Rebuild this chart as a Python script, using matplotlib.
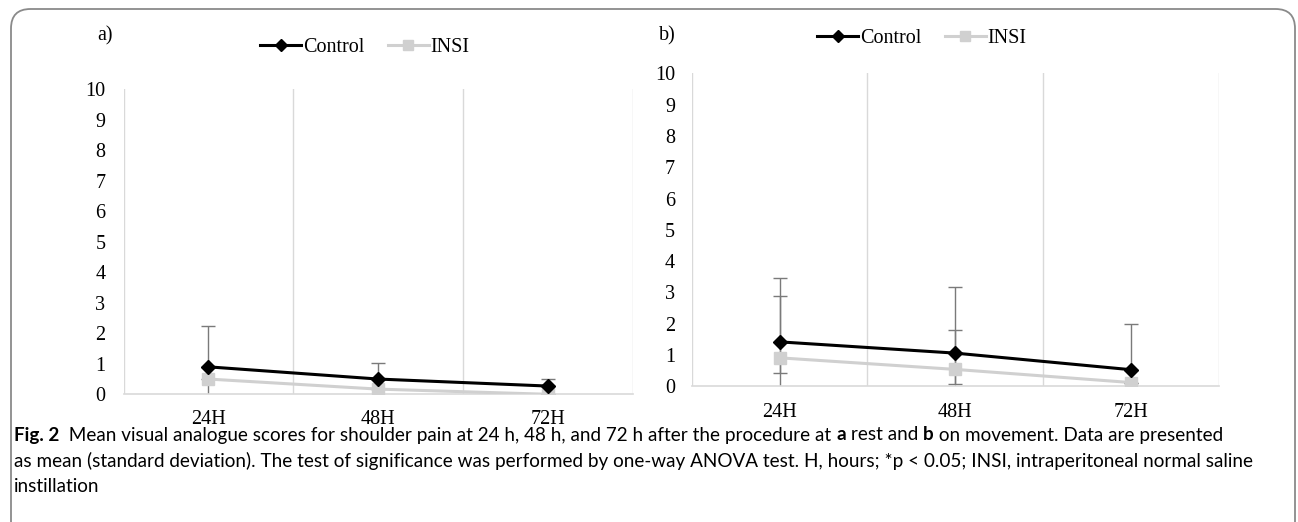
import matplotlib
matplotlib.use("Agg")
import matplotlib.pyplot as plt
from matplotlib import font_manager
from matplotlib.patches import FancyBboxPatch
from matplotlib.lines import Line2D

# data
times = ["24H", "48H", "72H"]

a_control = [0.90, 0.50, 0.27]
a_control_up = [1.33, 0.52, 0.22]
a_control_lo = [0.0, 0.0, 0.0]
a_insi = [0.50, 0.17, 0.0]
a_insi_up = [0.0, 0.0, 0.0]
a_insi_lo = [0.60, 0.30, 0.0]

b_control = [1.42, 1.06, 0.53]
b_control_up = [2.04, 2.11, 1.46]
b_control_lo = [1.01, 1.00, 0.0]
b_insi = [0.91, 0.54, 0.12]
b_insi_up = [1.97, 1.26, 0.0]
b_insi_lo = [1.97, 1.26, 0.0]

yticks = list(range(0, 11))

SERIF = "Liberation Serif"
TICK_SIZE = 14.5
CTRL_COLOR = "black"
INSI_COLOR = "#d0d0d0"
ERR_COLOR = "#7a7a7a"
GRID_COLOR = "#d9d9d9"

W, H = 1298, 522
fig = plt.figure(figsize=(W / 100, H / 100), dpi=100)


def px_rect(left, top, right, bottom):
    return [left / W, (H - bottom) / H, (right - left) / W, (bottom - top) / H]


def panel(rect, ctrl, ctrl_up, ctrl_lo, insi, insi_up, insi_lo, ypad, xpad):
    ax = fig.add_axes(rect)
    x = list(range(len(times)))
    ax.errorbar(x, ctrl, yerr=[ctrl_lo, ctrl_up], fmt="none", ecolor=ERR_COLOR,
                elinewidth=1, capsize=5, capthick=1, zorder=2)
    ax.errorbar(x, insi, yerr=[insi_lo, insi_up], fmt="none", ecolor=ERR_COLOR,
                elinewidth=1, capsize=5, capthick=1, zorder=2)
    ax.plot(x, insi, color=INSI_COLOR, lw=2.2, marker="s", ms=8, zorder=3)
    ax.plot(x, ctrl, color=CTRL_COLOR, lw=2.2, marker="D", ms=7, zorder=4)
    ax.set_xlim(-0.5, len(times) - 0.5)
    ax.set_ylim(0, 10)
    ax.set_yticks(yticks)
    ax.set_yticklabels([str(v) for v in yticks], fontfamily=SERIF, fontsize=TICK_SIZE)
    ax.set_xticks(x)
    ax.set_xticklabels(times, fontfamily=SERIF, fontsize=TICK_SIZE)
    ax.set_xticks([i - 0.5 for i in range(len(times) + 1)], minor=True)
    ax.grid(True, which="minor", axis="x", color=GRID_COLOR, lw=1)
    ax.tick_params(axis="both", which="both", length=0)
    ax.tick_params(axis="y", pad=ypad)
    ax.tick_params(axis="x", pad=xpad)
    for s in ["top", "right", "left"]:
        ax.spines[s].set_visible(False)
    ax.spines["bottom"].set_color(GRID_COLOR)
    ax.spines["bottom"].set_linewidth(1.2)
    ax.set_facecolor("none")
    return ax


ax_a = panel(px_rect(123.5, 89.3, 633, 394.3), a_control, a_control_up, a_control_lo,
             a_insi, a_insi_up, a_insi_lo, ypad=13, xpad=11)
ax_b = panel(px_rect(691.6, 73.3, 1219, 386.3), b_control, b_control_up, b_control_lo,
             b_insi, b_insi_up, b_insi_lo, ypad=12, xpad=12)

handles = [Line2D([], [], color=CTRL_COLOR, lw=2.2, marker="D", ms=6),
           Line2D([], [], color=INSI_COLOR, lw=2.2, marker="s", ms=7)]
for cx, cy in [(365, 47), (922, 38)]:
    fig.legend(handles, ["Control", "INSI"], loc="center", bbox_to_anchor=(cx / W, 1 - cy / H),
               ncol=2, frameon=False, prop={"family": SERIF, "size": TICK_SIZE},
               handlelength=2.0, handletextpad=0.1, columnspacing=1.2)

fig.text(97 / W, 1 - 36 / H, "a)", fontfamily=SERIF, fontsize=TICK_SIZE, va="center")
fig.text(659 / W, 1 - 36 / H, "b)", fontfamily=SERIF, fontsize=TICK_SIZE, va="center")

# frame around the figure, bottom is cut off
frame = FancyBboxPatch((11 / W, -0.2), (1295 - 11) / W, (H - 9) / H + 0.2,
                       boxstyle="round,pad=0,rounding_size=0.015", transform=fig.transFigure,
                       facecolor="none", edgecolor="#8a8a8a", lw=1.3, mutation_aspect=W / H)
fig.patches.append(frame)

# caption with bold pieces
names = {f.name for f in font_manager.fontManager.ttflist}
CAP = "Liberation Sans Narrow" if "Liberation Sans Narrow" in names else "Lato"
caption = [
    [("Fig. 2", "bold"), ("  Mean visual analogue scores for shoulder pain at 24 h, 48 h, and 72 h after the procedure at ", "normal"),
     ("a", "bold"), (" rest and ", "normal"), ("b", "bold"), (" on movement. Data are presented", "normal")],
    [("as mean (standard deviation). The test of significance was performed by one-way ANOVA test. H, hours; *p < 0.05; INSI, intraperitoneal normal saline", "normal")],
    [("instillation", "normal")],
]
line_right = [1265, 1252, None]


def draw_caption(size):
    arts, ends = [], []
    for i, line in enumerate(caption):
        y = 1 - (435 + 26 * i) / H
        prev = None
        for txt, weight in line:
            if prev is None:
                prev = fig.text(14 / W, y, txt, fontfamily=CAP, fontsize=size,
                                fontweight=weight, va="center", ha="left")
            else:
                prev = fig.add_artist(matplotlib.text.Annotation(
                    txt, xy=(1, 0), xycoords=prev, va="bottom", ha="left",
                    fontfamily=CAP, fontsize=size, fontweight=weight, annotation_clip=False))
            arts.append(prev)
        ends.append(prev)
    return arts, ends


# fit caption size so the long lines span about the same width as the reference
arts, ends = draw_caption(10)
fig.canvas.draw()
sizes = []
for end, target in zip(ends, line_right):
    if target is not None:
        sizes.append(10 * (target - 14) / (end.get_window_extent().x1 - 14))
for a in arts:
    a.remove()
draw_caption(min(sizes))

fig.savefig("out.png", dpi=100)
